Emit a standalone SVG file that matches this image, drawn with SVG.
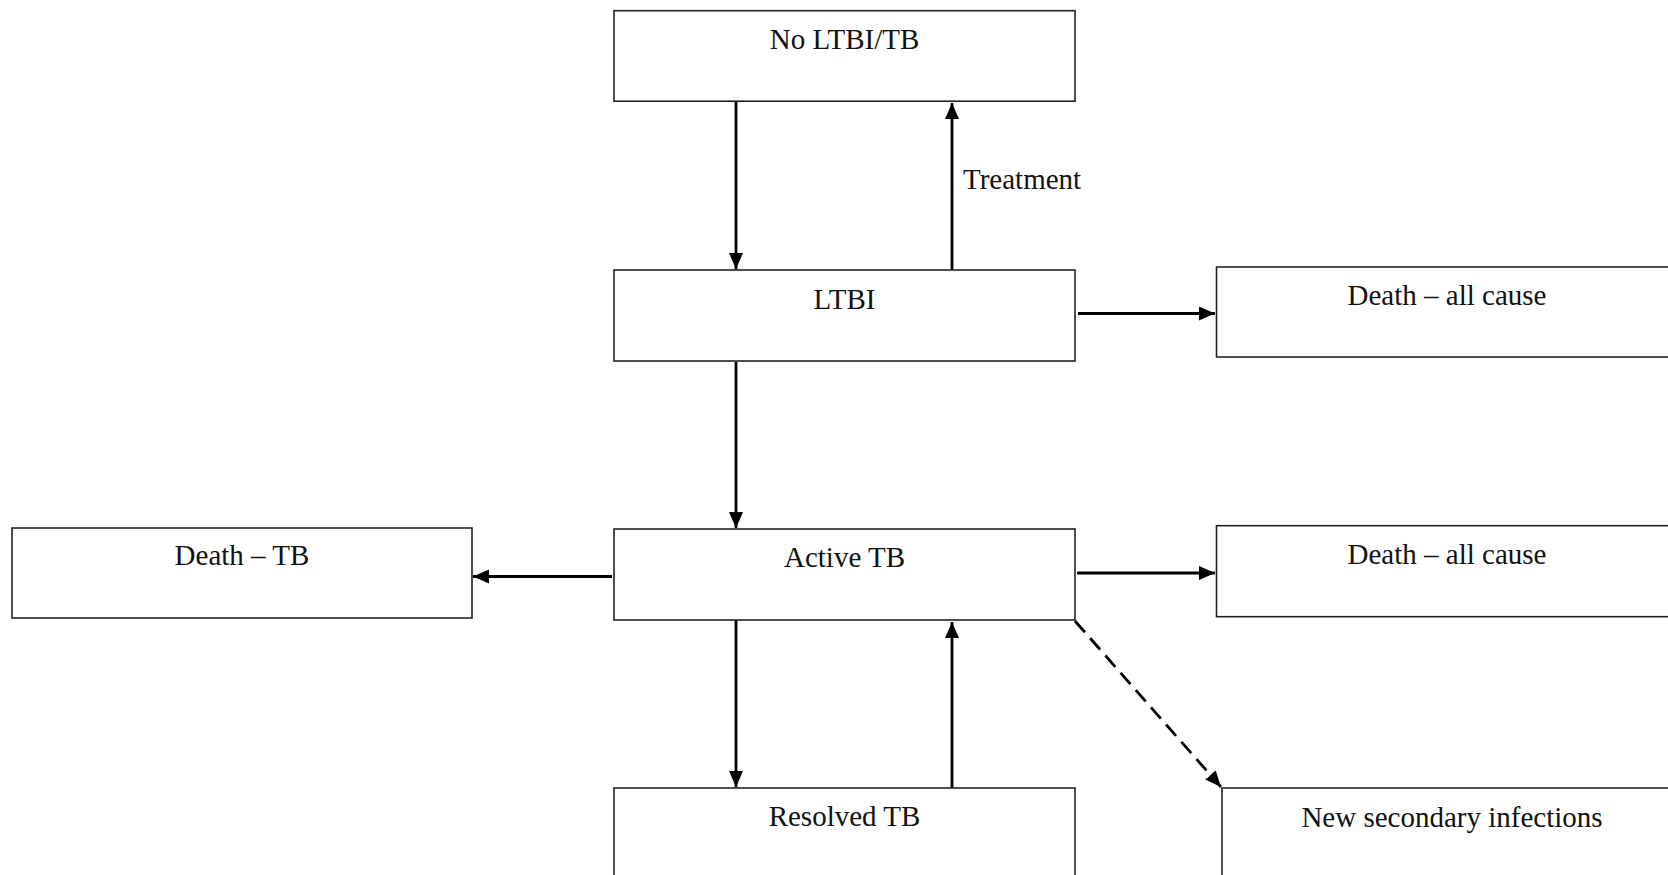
<svg xmlns="http://www.w3.org/2000/svg" width="1668" height="875" viewBox="0 0 1668 875">
<style>
.box{fill:#fff;stroke:#222;stroke-width:1.6}
.lbl{font-family:"Liberation Serif","Times New Roman",serif;font-size:29px;fill:#111;text-anchor:middle}
.edge{stroke:#000;stroke-width:2.8;fill:none}
.dash{stroke-dasharray:15 8}
</style>
<defs>
<marker id="ah" markerUnits="userSpaceOnUse" markerWidth="18" markerHeight="16" refX="16" refY="7" orient="auto">
<path d="M0,0 L16,7 L0,14 z" fill="#000"/>
</marker>
</defs>
<rect width="1668" height="875" fill="#fff"/>
<g id="connectors">
<line class="edge" x1="736" y1="102" x2="736" y2="269" marker-end="url(#ah)"/>
<line class="edge" x1="952" y1="270" x2="952" y2="103" marker-end="url(#ah)"/>
<line class="edge" x1="736" y1="362" x2="736" y2="528" marker-end="url(#ah)"/>
<line class="edge" x1="1078" y1="313.5" x2="1215" y2="313.5" marker-end="url(#ah)"/>
<line class="edge" x1="612" y1="576.5" x2="473" y2="576.5" marker-end="url(#ah)"/>
<line class="edge" x1="1077" y1="573" x2="1215" y2="573" marker-end="url(#ah)"/>
<line class="edge" x1="736" y1="620" x2="736" y2="787" marker-end="url(#ah)"/>
<line class="edge" x1="952" y1="788" x2="952" y2="622" marker-end="url(#ah)"/>
<line class="edge dash" x1="1075" y1="621" x2="1221" y2="787" marker-end="url(#ah)"/>
<text class="lbl" x="963" y="189" style="text-anchor:start">Treatment</text>
</g>
<g id="node-no-ltbi">
<rect class="box" x="614" y="10.7" width="461" height="90.5"/>
<text class="lbl" x="844.5" y="49">No LTBI/TB</text>
</g>
<g id="node-ltbi">
<rect class="box" x="614" y="270" width="461" height="91"/>
<text class="lbl" x="844.5" y="309">LTBI</text>
</g>
<g id="node-death-all-1">
<rect class="box" x="1216.5" y="267" width="470" height="90"/>
<text class="lbl" x="1447" y="305">Death – all cause</text>
</g>
<g id="node-active-tb">
<rect class="box" x="614" y="529" width="461" height="91"/>
<text class="lbl" x="844.5" y="567">Active TB</text>
</g>
<g id="node-death-tb">
<rect class="box" x="12" y="528" width="460" height="90"/>
<text class="lbl" x="242" y="565">Death – TB</text>
</g>
<g id="node-death-all-2">
<rect class="box" x="1216.5" y="525.7" width="470" height="91"/>
<text class="lbl" x="1447" y="564">Death – all cause</text>
</g>
<g id="node-resolved-tb">
<rect class="box" x="614" y="788" width="461" height="100"/>
<text class="lbl" x="844.5" y="826">Resolved TB</text>
</g>
<g id="node-new-secondary">
<rect class="box" x="1222" y="788" width="470" height="100"/>
<text class="lbl" x="1452" y="826.5">New secondary infections</text>
</g>
</svg>
